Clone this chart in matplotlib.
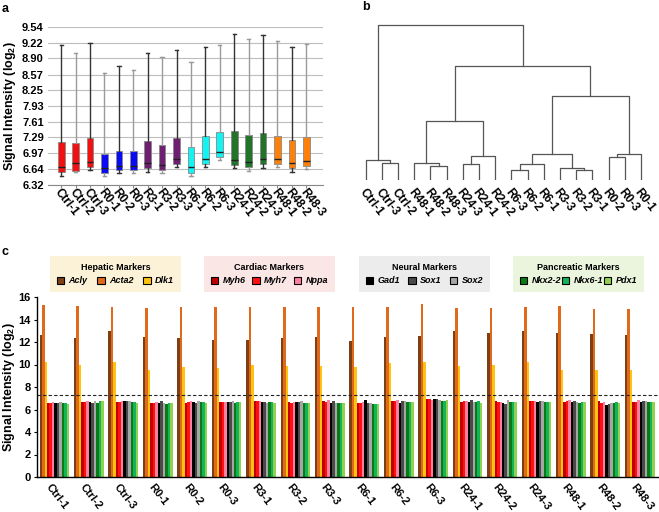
import matplotlib
matplotlib.use("Agg")
import matplotlib.pyplot as plt
from matplotlib.patches import Patch
from matplotlib.transforms import ScaledTranslation

plt.rcParams["font.family"] = ["Liberation Sans", "DejaVu Sans"]
plt.rcParams["font.weight"] = "bold"
plt.rcParams["mathtext.fontset"] = "custom"
plt.rcParams["mathtext.rm"] = "Liberation Sans:bold"
plt.rcParams["mathtext.it"] = "Liberation Sans:bold:italic"
plt.rcParams["mathtext.bf"] = "Liberation Sans:bold"

W, H = 659, 512

samples = ["Ctrl-1", "Ctrl-2", "Ctrl-3", "R0-1", "R0-2", "R0-3", "R3-1", "R3-2", "R3-3",
           "R6-1", "R6-2", "R6-3", "R24-1", "R24-2", "R24-3", "R48-1", "R48-2", "R48-3"]

# panel a: box plot stats
box_whislo = [6.51, 6.59, 6.62, 6.50, 6.57, 6.57, 6.59, 6.56, 6.68,
              6.51, 6.68, 6.83, 6.66, 6.61, 6.67, 6.68, 6.58, 6.64]
box_q1 = [6.58, 6.60, 6.69, 6.56, 6.62, 6.62, 6.66, 6.62, 6.75,
          6.57, 6.75, 6.90, 6.73, 6.68, 6.74, 6.74, 6.66, 6.71]
box_med = [6.68, 6.76, 6.78, 6.66, 6.71, 6.71, 6.76, 6.73, 6.84,
           6.68, 6.86, 7.00, 6.83, 6.79, 6.84, 6.84, 6.76, 6.80]
box_q3 = [7.20, 7.18, 7.28, 6.95, 7.02, 7.02, 7.21, 7.13, 7.28,
          7.09, 7.32, 7.41, 7.43, 7.34, 7.38, 7.32, 7.23, 7.30]
box_whishi = [9.17, 9.01, 9.21, 8.61, 8.74, 8.67, 9.00, 8.93, 9.07,
              8.83, 9.14, 9.18, 9.40, 9.30, 9.37, 9.26, 9.14, 9.19]
box_colors = ["#f41010"] * 3 + ["#0a0af5"] * 3 + ["#6f1f72"] * 3 + \
             ["#10f4f4"] * 3 + ["#22742a"] * 3 + ["#ff8008"] * 3
a_yticks = [6.32, 6.64, 6.97, 7.29, 7.61, 7.93, 8.25, 8.57, 8.90, 9.22, 9.54]

# panel b: dendrogram (leaf order, then merges as left, right, height)
leaf_labels = ["Ctrl-1", "Ctrl-3", "Ctrl-2", "R48-1", "R48-2", "R48-3", "R24-3", "R24-1", "R24-2",
               "R6-3", "R6-2", "R6-1", "R3-3", "R3-2", "R3-1", "R0-2", "R0-3", "R0-1"]
link_left = [1, 0, 4, 3, 6, 22, 21, 9, 25, 13, 12, 26, 15, 30, 29, 24, 19]
link_right = [2, 18, 5, 20, 7, 8, 23, 10, 11, 14, 27, 28, 16, 17, 31, 32, 33]
link_height = [52, 59, 42, 51, 49, 73, 178, 31, 47, 30, 35, 77, 68, 77, 253, 343, 465]

# panel c: marker expression per sample
markers = ["Acly", "Acta2", "Dlk1", "Myh6", "Myh7", "Nppa", "Gad1", "Sox1", "Sox2",
           "Nkx2-2", "Nkx6-1", "Pdx1"]
acly = [12.66, 12.36, 12.96, 12.42, 12.36, 12.20, 12.20, 12.33, 12.42,
        12.12, 12.48, 12.54, 12.96, 12.84, 13.00, 12.84, 12.75, 12.66]
acta2 = [15.30, 15.20, 15.15, 15.00, 15.10, 15.15, 15.15, 15.12, 15.12,
         15.07, 15.07, 15.35, 15.00, 15.00, 15.07, 15.20, 14.90, 14.96]
dlk1 = [10.18, 9.97, 10.18, 9.55, 9.80, 9.65, 9.92, 9.88, 9.85,
        9.78, 10.10, 10.22, 9.85, 9.95, 10.22, 9.55, 9.55, 9.50]
myh6 = [6.56, 6.68, 6.70, 6.62, 6.59, 6.65, 6.79, 6.65, 6.79,
        6.56, 6.74, 6.91, 6.68, 6.74, 6.79, 6.68, 6.79, 6.68]
myh7 = [6.56, 6.68, 6.70, 6.62, 6.65, 6.70, 6.74, 6.59, 6.65,
        6.56, 6.74, 6.91, 6.79, 6.68, 6.79, 6.74, 6.56, 6.68]
nppa = [6.68, 6.74, 6.74, 6.68, 6.74, 6.65, 6.74, 6.70, 6.85,
        6.65, 6.88, 6.88, 6.76, 6.68, 6.79, 6.85, 6.70, 6.85]
gad1 = [6.56, 6.68, 6.74, 6.62, 6.65, 6.68, 6.70, 6.65, 6.59,
        6.88, 6.56, 6.94, 6.65, 6.56, 6.65, 6.65, 6.41, 6.68]
sox1 = [6.59, 6.62, 6.74, 6.74, 6.56, 6.68, 6.65, 6.65, 6.79,
        6.62, 6.76, 6.97, 6.88, 6.50, 6.79, 6.79, 6.50, 6.74]
sox2 = [6.70, 6.79, 6.79, 6.59, 6.74, 6.79, 6.59, 6.79, 6.62,
        6.62, 6.74, 6.88, 6.68, 6.82, 6.74, 6.68, 6.62, 6.74]
nkx22 = [6.56, 6.59, 6.65, 6.53, 6.70, 6.59, 6.68, 6.56, 6.62,
         6.53, 6.70, 6.79, 6.65, 6.65, 6.68, 6.62, 6.59, 6.70]
nkx61 = [6.56, 6.74, 6.68, 6.59, 6.65, 6.65, 6.70, 6.62, 6.62,
         6.50, 6.70, 6.79, 6.74, 6.65, 6.68, 6.70, 6.65, 6.65]
pdx1 = [6.50, 6.74, 6.62, 6.56, 6.62, 6.65, 6.56, 6.62, 6.62,
        6.47, 6.70, 6.88, 6.59, 6.65, 6.68, 6.65, 6.59, 6.70]
marker_values = [acly, acta2, dlk1, myh6, myh7, nppa, gad1, sox1, sox2, nkx22, nkx61, pdx1]
marker_colors = ["#7f3f14", "#e0691a", "#ffc20e", "#c00000", "#ff1010", "#ff7fa0",
                 "#000000", "#4a4a4a", "#a6a6a6", "#0a7a14", "#12b45a", "#92d050"]
threshold = 7.25

groups = [("Hepatic Markers", 0, "#fcf2d8"), ("Cardiac Markers", 3, "#fbe6e6"),
          ("Neural Markers", 6, "#ececec"), ("Pancreatic Markers", 9, "#ebf5de")]
group_left_px = [50, 204, 359, 513]


def px_rect(x0, y0, x1, y1):
    return [x0 / W, 1 - y1 / H, (x1 - x0) / W, (y1 - y0) / H]


def shift_labels(ax, fig, dx_px):
    off = ScaledTranslation(dx_px / 100, 0, fig.dpi_scale_trans)
    for lab in ax.get_xticklabels():
        lab.set_transform(lab.get_transform() + off)


fig = plt.figure(figsize=(W / 100, H / 100), dpi=100)

# ---------- panel a ----------
ax_a = fig.add_axes(px_rect(48, 27, 323, 185))
stats = []
for i, name in enumerate(samples):
    stats.append({"label": name, "whislo": box_whislo[i], "q1": box_q1[i], "med": box_med[i],
                  "q3": box_q3[i], "whishi": box_whishi[i], "fliers": []})
bp = ax_a.bxp(stats, positions=range(1, len(samples) + 1), widths=0.46, patch_artist=True,
              showfliers=False)
for i, box in enumerate(bp["boxes"]):
    box.set_facecolor(box_colors[i])
    box.set_edgecolor("#888888")
    box.set_linewidth(0.6)
for med in bp["medians"]:
    med.set_color("#202020")
    med.set_linewidth(1.0)
for j, line in enumerate(bp["whiskers"] + bp["caps"]):
    idx = j // 2 if j < 2 * len(samples) else (j - 2 * len(samples)) // 2
    line.set_color("#333333" if idx % 2 == 0 else "#9a9a9a")
    line.set_linewidth(1.0)
ax_a.set_ylim(6.32, 9.54)
ax_a.set_xlim(0.08, 19.16)
ax_a.set_yticks(a_yticks)
ax_a.set_yticklabels([f"{v:.2f}" for v in a_yticks], fontsize=8, fontweight="bold")
ax_a.yaxis.grid(True, color="#bdbdbd", linewidth=0.8)
ax_a.set_axisbelow(True)
for s in ["left", "right", "top"]:
    ax_a.spines[s].set_visible(False)
ax_a.spines["bottom"].set_color("#888888")
ax_a.tick_params(axis="y", length=0, pad=3)
ax_a.tick_params(axis="x", length=2, color="#888888", pad=2)
ax_a.set_xticks(range(1, len(samples) + 1))
ax_a.set_xticklabels(samples, rotation=-52, ha="left", va="center", rotation_mode="anchor",
                     fontsize=8.5, fontweight="bold")
shift_labels(ax_a, fig, -4)
ax_a.set_ylabel("Signal Intensity (log$_2$)", fontsize=9, fontweight="bold", labelpad=3)

# ---------- panel b ----------
ax_b = fig.add_axes(px_rect(355, 20, 652, 180))
n_leaves = len(leaf_labels)
node_x = list(range(n_leaves))
node_h = [0.0] * n_leaves
for l, r, h in zip(link_left, link_right, link_height):
    xl, xr = node_x[l], node_x[r]
    ax_b.plot([xl, xl, xr, xr], [node_h[l], h, h, node_h[r]], color="#555555", linewidth=0.9)
    node_x.append((xl + xr) / 2)
    node_h.append(h)
ax_b.set_xlim(-0.66, 17.68)
ax_b.set_ylim(0, 480)
for s in ax_b.spines.values():
    s.set_visible(False)
ax_b.set_yticks([])
ax_b.set_xticks(range(n_leaves))
ax_b.set_xticklabels(leaf_labels, rotation=-52, ha="left", va="center", rotation_mode="anchor",
                     fontsize=8.5, fontweight="bold")
ax_b.tick_params(axis="x", length=0, pad=7)
shift_labels(ax_b, fig, -4)

# ---------- panel c ----------
ax_c = fig.add_axes(px_rect(37, 297, 659, 477))
bw = 0.072
n_m = len(markers)
for k, (vals, col) in enumerate(zip(marker_values, marker_colors)):
    xs = [i - bw * n_m / 2 + bw * (k + 0.5) for i in range(len(samples))]
    ax_c.bar(xs, vals, width=bw, color=col, linewidth=0)
ax_c.axhline(threshold, color="#222222", linestyle=(0, (3, 2)), linewidth=0.8)
ax_c.set_xlim(-0.506, 17.56)
ax_c.set_ylim(0, 16)
ax_c.set_yticks(range(0, 17, 2))
ax_c.set_yticklabels([str(v) for v in range(0, 17, 2)], fontsize=8, fontweight="bold")
ax_c.set_xticks(range(len(samples)))
ax_c.set_xticklabels(samples, rotation=-52, ha="left", va="center", rotation_mode="anchor",
                     fontsize=8, fontweight="bold")
ax_c.tick_params(axis="x", length=0, pad=6)
ax_c.tick_params(axis="y", length=2.5, width=0.8, pad=2)
shift_labels(ax_c, fig, -7)
ax_c.spines["right"].set_visible(False)
ax_c.spines["top"].set_visible(False)
ax_c.spines["left"].set_linewidth(1.0)
ax_c.spines["bottom"].set_linewidth(1.0)
ax_c.set_ylabel("Signal Intensity (log$_2$)", fontsize=9, fontweight="bold", labelpad=1)

for (title, start, bg), x0 in zip(groups, group_left_px):
    handles = [Patch(facecolor=marker_colors[start + j], edgecolor="black", linewidth=0.8,
                     label=markers[start + j]) for j in range(3)]
    leg = fig.legend(handles=handles, title=title, ncol=3, loc="upper left",
                     bbox_to_anchor=(x0 / W, 1 - 293 / H, 131 / W, 37 / H), mode="expand",
                     fontsize=6.5, title_fontsize=6.5, handlelength=0.8, handleheight=0.8,
                     handletextpad=0.5, columnspacing=1.0, borderpad=0.75, borderaxespad=0,
                     frameon=True, fancybox=False, facecolor=bg, edgecolor="none", framealpha=1)
    leg.get_title().set_fontweight("bold")
    for t in leg.get_texts():
        t.set_fontstyle("italic")
        t.set_fontweight("bold")

fig.text(2 / W, 1 - 9 / H, "a", fontsize=9, fontweight="bold", va="center")
fig.text(362 / W, 1 - 7 / H, "b", fontsize=9, fontweight="bold", va="center")
fig.text(2 / W, 1 - 252 / H, "c", fontsize=9, fontweight="bold", va="center")

fig.savefig("out.png", dpi=100)
